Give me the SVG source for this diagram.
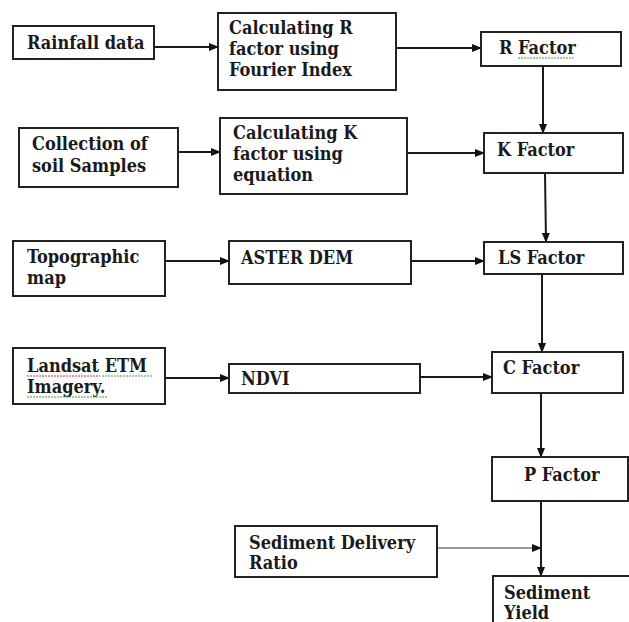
<svg xmlns="http://www.w3.org/2000/svg" width="629" height="622" viewBox="0 0 629 622">
<defs>
<marker id="ah" markerWidth="10" markerHeight="8" refX="9" refY="4" orient="auto" markerUnits="userSpaceOnUse">
<path d="M0,0 L10,4 L0,8 Z" fill="#111"/>
</marker>
<style>
.box{fill:#fff;stroke:#222;stroke-width:2}
.c{fill:none;stroke:#1a1a1a;stroke-width:2}
.thin{fill:none;stroke:#333;stroke-width:1}
.sqr{fill:none;stroke:#d03030;stroke-width:1;stroke-dasharray:2 1}
.sqg{fill:none;stroke:#40a040;stroke-width:1;stroke-dasharray:2 1}
</style>
</defs>
<rect width="629" height="622" fill="#fff"/>
<g id="connectors">
<line class="c" x1="154" y1="47" x2="218" y2="47" marker-end="url(#ah)"/>
<line class="c" x1="396" y1="48" x2="481" y2="48" marker-end="url(#ah)"/>
<line class="c" x1="543" y1="66" x2="543" y2="133" marker-end="url(#ah)"/>
<line class="c" x1="170" y1="152" x2="220" y2="152" marker-end="url(#ah)"/>
<line class="c" x1="398" y1="153" x2="484" y2="153" marker-end="url(#ah)"/>
<line class="c" x1="545" y1="173" x2="546" y2="242" marker-end="url(#ah)"/>
<line class="c" x1="165" y1="261" x2="229" y2="261" marker-end="url(#ah)"/>
<line class="c" x1="411" y1="261" x2="484" y2="261" marker-end="url(#ah)"/>
<line class="c" x1="542" y1="274" x2="542" y2="352" marker-end="url(#ah)"/>
<line class="c" x1="165" y1="378" x2="229" y2="378" marker-end="url(#ah)"/>
<line class="c" x1="420" y1="377" x2="492" y2="377" marker-end="url(#ah)"/>
<line class="c" x1="541" y1="393" x2="541" y2="457" marker-end="url(#ah)"/>
<line class="c" x1="541" y1="501" x2="541" y2="576" marker-end="url(#ah)"/>
<line class="thin" x1="437" y1="548" x2="541" y2="548" marker-end="url(#ah)"/>
</g>
<g font-family="DejaVu Serif Condensed, Liberation Serif, serif" font-weight="bold" font-size="18" fill="#1a1a1a">
<g id="rainfall"><rect class="box" x="13" y="26" width="141" height="33"/><text x="27" y="49">Rainfall data</text></g>
<g id="calcR"><rect class="box" x="218" y="13" width="178" height="77"/><text x="229" y="34">Calculating R</text><text x="229" y="55">factor using</text><text x="229" y="76">Fourier Index</text></g>
<g id="rfactor"><rect class="box" x="481" y="32" width="140" height="34"/><text x="499" y="54">R Factor</text><path class="sqg" d="M518,58 H575"/></g>
<g id="collection"><rect class="box" x="19" y="128" width="159" height="59"/><text x="32" y="150">Collection of</text><text x="32" y="172">soil Samples</text></g>
<g id="calcK"><rect class="box" x="220" y="118" width="187" height="76"/><text x="233" y="139">Calculating K</text><text x="233" y="160">factor using</text><text x="233" y="181">equation</text></g>
<g id="kfactor"><rect class="box" x="484" y="133" width="139" height="40"/><text x="497" y="156">K Factor</text></g>
<g id="topo"><rect class="box" x="13" y="241" width="152" height="55"/><text x="27" y="263">Topographic</text><text x="27" y="284">map</text></g>
<g id="aster"><rect class="box" x="229" y="241" width="182" height="43"/><text x="241" y="264">ASTER DEM</text></g>
<g id="lsfactor"><rect class="box" x="484" y="242" width="139" height="32"/><text x="498" y="264">LS Factor</text></g>
<g id="landsat"><rect class="box" x="13" y="348" width="152" height="56"/><text x="27" y="372">Landsat ETM</text><text x="27" y="393">Imagery.</text><path class="sqr" d="M27,376 H100"/><path class="sqg" d="M102,376 H153"/><path class="sqg" d="M27,397 H108"/></g>
<g id="ndvi"><rect class="box" x="229" y="364" width="191" height="29"/><text x="241" y="385">NDVI</text></g>
<g id="cfactor"><rect class="box" x="492" y="352" width="131" height="41"/><text x="503" y="374">C Factor</text></g>
<g id="pfactor"><rect class="box" x="492" y="457" width="136" height="44"/><text x="524" y="481">P Factor</text></g>
<g id="sdr"><rect class="box" x="235" y="526" width="202" height="51"/><text x="249" y="549">Sediment Delivery</text><text x="249" y="569">Ratio</text></g>
<g id="sedyield"><rect class="box" x="493" y="576" width="150" height="60"/><text x="504" y="599">Sediment</text><text x="504" y="619">Yield</text></g>
</g>
</svg>
